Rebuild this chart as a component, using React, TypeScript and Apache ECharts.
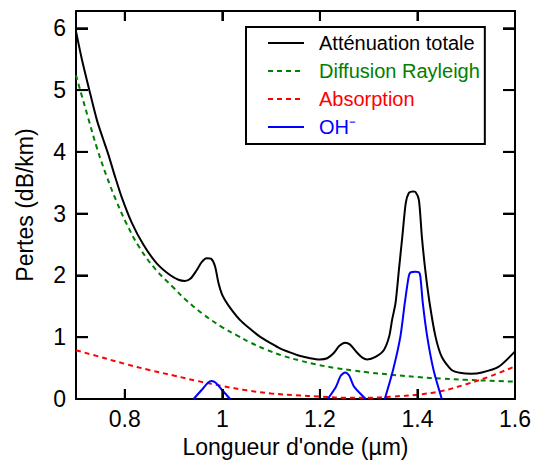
import React, { useEffect, useRef } from 'react';
import * as echarts from 'echarts';

const FONT = "'Liberation Sans', Arial, Helvetica, sans-serif";

const seriesNames = ['Atténuation totale', 'Diffusion Rayleigh', 'Absorption', 'OH⁻'];
const seriesColors = ['#000000', '#008000', '#ff0000', '#0000ff'];

const xMin = 0.7;
const xMax = 1.6;
const yMin = 0;
const yMax = 6.28;
const xTickValues = [0.8, 1.0, 1.2, 1.4];
const yTickValues = [1, 2, 3, 4, 5, 6];

const totalX = [0.7, 0.712, 0.727, 0.743, 0.755, 0.767, 0.78, 0.794, 0.814, 0.838, 0.865, 0.892, 0.91, 0.923, 0.935, 0.947, 0.958, 0.968, 0.977, 0.985, 0.992, 1.0, 1.012, 1.036, 1.056, 1.077, 1.1, 1.118, 1.14, 1.158, 1.18, 1.2, 1.215, 1.228, 1.24, 1.252, 1.262, 1.275, 1.287, 1.297, 1.314, 1.331, 1.342, 1.348, 1.355, 1.362, 1.369, 1.376, 1.382, 1.39, 1.396, 1.403, 1.409, 1.416, 1.425, 1.437, 1.45, 1.47, 1.49, 1.51, 1.532, 1.566, 1.6];
const totalY = [5.95, 5.5, 5.01, 4.51, 4.22, 3.94, 3.6, 3.26, 2.86, 2.5, 2.2, 2.01, 1.93, 1.91, 1.95, 2.08, 2.22, 2.28, 2.27, 2.15, 1.88, 1.68, 1.52, 1.28, 1.14, 1.01, 0.9, 0.82, 0.75, 0.7, 0.66, 0.64, 0.66, 0.74, 0.86, 0.91, 0.88, 0.76, 0.67, 0.64, 0.68, 0.79, 1.01, 1.28, 1.55, 2.09, 2.63, 3.17, 3.33, 3.36, 3.35, 3.22, 2.63, 2.09, 1.55, 1.01, 0.68, 0.47, 0.42, 0.41, 0.43, 0.52, 0.77];

const rayleighX = [0.7, 0.71, 0.726, 0.743, 0.763, 0.783, 0.804, 0.831, 0.865, 0.899, 0.926, 0.961, 1.0, 1.03, 1.056, 1.09, 1.124, 1.16, 1.192, 1.233, 1.27, 1.3, 1.35, 1.4, 1.45, 1.5, 1.55, 1.6];
const rayleighY = [5.24, 4.96, 4.52, 4.06, 3.6, 3.2, 2.83, 2.44, 2.08, 1.81, 1.6, 1.37, 1.16, 1.03, 0.92, 0.8, 0.7, 0.62, 0.56, 0.5, 0.46, 0.43, 0.39, 0.355, 0.33, 0.31, 0.295, 0.28];

const absorptionX = [0.7, 0.75, 0.8, 0.85, 0.9, 0.95, 1.0, 1.05, 1.1, 1.15, 1.2, 1.25, 1.3, 1.35, 1.4, 1.45, 1.5, 1.55, 1.6];
const absorptionY = [0.79, 0.68, 0.57, 0.47, 0.38, 0.29, 0.21, 0.14, 0.09, 0.06, 0.04, 0.02, 0.02, 0.04, 0.07, 0.13, 0.24, 0.37, 0.53];

const ohX = [0.941, 0.958, 0.97, 0.978, 0.987, 0.999, 1.016, 1.1, 1.216, 1.233, 1.243, 1.252, 1.26, 1.27, 1.294, 1.31, 1.333, 1.35, 1.365, 1.374, 1.382, 1.386, 1.395, 1.403, 1.406, 1.411, 1.42, 1.433, 1.45];
const ohY: (number | null)[] = [0, 0.15, 0.26, 0.29, 0.26, 0.15, 0, null, 0, 0.2, 0.38, 0.43, 0.38, 0.2, 0, null, 0, 0.47, 1.01, 1.55, 1.98, 2.05, 2.06, 2.05, 1.98, 1.55, 1.01, 0.47, 0];

const zip = (xs: number[], ys: (number | null)[]) => xs.map((x, i) => [x, ys[i] === null ? '-' : ys[i]]);

const W = 534;
const H = 463;
const GRID = { left: 76, right: 16, top: 11, bottom: 64 };

export default function App() {
  const ref = useRef<HTMLDivElement>(null);
  useEffect(() => {
    if (!ref.current) return;
    const chart = echarts.init(ref.current, null, { renderer: 'svg' });
    const axisLine = { show: true, onZero: false, lineStyle: { color: '#000', width: 2 } };
    const xTick = { show: true, inside: true, length: 10, lineStyle: { color: '#000', width: 2 } };
    const yTick = { show: true, inside: true, length: 12, lineStyle: { color: '#000', width: 2 } };
    const xBase = {
      type: 'value', min: xMin, max: xMax, minInterval: 0.2, maxInterval: 0.2,
      splitLine: { show: false }, axisLine, axisTick: xTick,
    };
    const yBase = {
      type: 'value', min: yMin, max: yMax, interval: 1,
      splitLine: { show: false }, axisLine, axisTick: yTick,
    };

    // Tick specs: [value, side] with side 0 = bottom, 1 = top, 2 = left, 3 = right.
    const tickSpecs: number[][] = [];
    xTickValues.forEach((v) => { tickSpecs.push([v, 0]); tickSpecs.push([v, 1]); });
    yTickValues.forEach((v) => { tickSpecs.push([v, 2]); tickSpecs.push([v, 3]); });

    chart.setOption({
      animation: false,
      backgroundColor: '#fff',
      grid: { ...GRID, containLabel: false },
      xAxis: [
        {
          ...xBase, position: 'bottom',
          axisLabel: { show: true, fontSize: 23, color: '#000', fontFamily: FONT, margin: 8, showMinLabel: false },
          name: "Longueur d'onde (µm)", nameLocation: 'middle', nameGap: 36,
          nameTextStyle: { fontSize: 23, color: '#000', fontFamily: FONT },
        },
        { ...xBase, position: 'top', axisLabel: { show: false } },
      ],
      yAxis: [
        {
          ...yBase, position: 'left',
          axisLabel: { show: true, fontSize: 23, color: '#000', fontFamily: FONT, margin: 10, showMaxLabel: false },
          name: 'Pertes (dB/km)', nameLocation: 'middle', nameGap: 40,
          nameTextStyle: { fontSize: 23, color: '#000', fontFamily: FONT },
        },
        { ...yBase, position: 'right', axisLabel: { show: false } },
      ],
      legend: {
        orient: 'vertical', left: 246, top: 27,
        padding: [5, 5, 6, 21],
        borderColor: '#000', borderWidth: 2, backgroundColor: '#fff',
        itemWidth: 36, itemHeight: 14, itemGap: 6,
        itemStyle: { opacity: 0 },
        textStyle: { fontSize: 20, fontFamily: FONT, padding: [0, 0, 0, 10], lineHeight: 22 },
        data: seriesNames.map((n, i) => ({ name: n, textStyle: { color: seriesColors[i] } })),
      },
      series: [
        {
          name: 'axisTicks', type: 'custom', data: tickSpecs, silent: true, clip: false, z: 10,
          encode: { x: 0 },
          renderItem: (params: any, api: any) => {
            const v = api.value(0);
            const side = api.value(1);
            let x1: number, y1: number, x2: number, y2: number;
            if (side < 2) {
              const [x, yb] = api.coord([v, side === 0 ? yMin : yMax]);
              x1 = x; x2 = x; y1 = yb; y2 = side === 0 ? yb - 10 : yb + 10;
            } else {
              const [xb, y] = api.coord([side === 2 ? xMin : xMax, v]);
              y1 = y; y2 = y; x1 = xb; x2 = side === 2 ? xb + 12 : xb - 12;
            }
            return { type: 'line', shape: { x1, y1, x2, y2 }, style: { stroke: '#000', lineWidth: 2 } };
          },
        },
        {
          name: seriesNames[0], type: 'line', data: zip(totalX, totalY), symbol: 'none',
          smooth: 0.25,
          lineStyle: { color: seriesColors[0], width: 2 }, itemStyle: { color: seriesColors[0] }, z: 4,
        },
        {
          name: seriesNames[1], type: 'line', data: zip(rayleighX, rayleighY), symbol: 'none',
          smooth: 0.4,
          lineStyle: { color: seriesColors[1], width: 2, type: [5, 4] }, itemStyle: { color: seriesColors[1] }, z: 3,
        },
        {
          name: seriesNames[2], type: 'line', data: zip(absorptionX, absorptionY), symbol: 'none',
          smooth: 0.4,
          lineStyle: { color: seriesColors[2], width: 2, type: [5, 4] }, itemStyle: { color: seriesColors[2] }, z: 3,
        },
        {
          name: seriesNames[3], type: 'line', data: zip(ohX, ohY), symbol: 'none', connectNulls: false,
          smooth: 0.25,
          lineStyle: { color: seriesColors[3], width: 2 }, itemStyle: { color: seriesColors[3] }, z: 5,
        },
      ],
    });

    return () => chart.dispose();
  }, []);
  return <div ref={ref} style={{ position: 'fixed', left: 0, top: 0, width: W, height: H }} />;
}
